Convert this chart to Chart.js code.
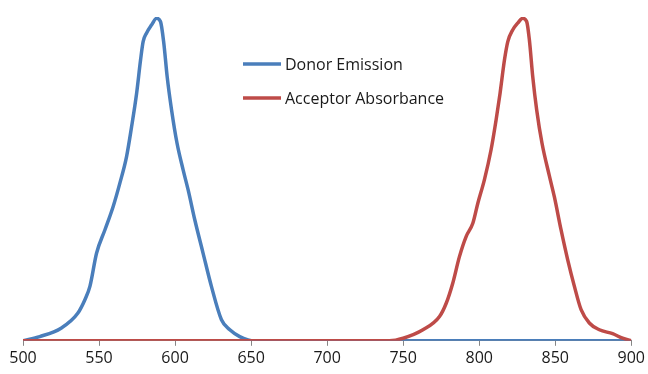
<!DOCTYPE html>
<html>
<head>
<meta charset="utf-8">
<script src="https://cdn.jsdelivr.net/npm/chart.js@4"></script>
<style>
    html, body { margin: 0; padding: 0; background: #fff; }
    #wrap { width: 648px; height: 374px; }
</style>
</head>
<body>
<div id="wrap"><canvas id="c"></canvas></div>
<script>
"use strict"

// wavelength (nm) and normalised intensity
var donorX = [500, 511, 525, 536, 541, 544, 548.4, 553.9, 559.3, 563.7, 568.1, 571.4, 574.7, 577.3, 579, 581.2, 584.5, 587.8, 590.4, 592.6, 594.8, 597.7, 601.3, 605.3, 608.6, 613, 618.4, 623.9, 630.5, 636, 642.5, 648, 652, 700, 800, 900];
var donorY = [0, 0.013, 0.039, 0.085, 0.13, 0.168, 0.271, 0.343, 0.415, 0.487, 0.569, 0.661, 0.764, 0.867, 0.924, 0.95, 0.975, 0.996, 0.986, 0.919, 0.816, 0.713, 0.61, 0.528, 0.466, 0.373, 0.271, 0.168, 0.065, 0.034, 0.013, 0.003, 0, 0, 0, 0];

var acceptorX = [500, 600, 700, 741, 750, 763, 773.9, 778.3, 782.6, 787, 791.4, 795.8, 799.1, 803.4, 807.8, 811.1, 813.7, 816.6, 818.8, 822, 825.3, 828.6, 831.2, 833, 835.2, 837.8, 841.3, 846.1, 849.4, 853.8, 858.2, 862.6, 867, 872.4, 879, 887.7, 894.3, 900];
var acceptorY = [0, 0, 0, 0, 0.008, 0.034, 0.075, 0.116, 0.178, 0.26, 0.322, 0.363, 0.425, 0.497, 0.59, 0.682, 0.764, 0.867, 0.924, 0.96, 0.981, 0.996, 0.986, 0.929, 0.816, 0.713, 0.61, 0.51, 0.445, 0.343, 0.25, 0.168, 0.096, 0.055, 0.034, 0.022, 0.008, 0];

var seriesNames = ["Donor Emission", "Acceptor Absorbance"];
var xMin = 500, xMax = 900, xStep = 50;

var colors = {
    donor: '#4a7ebb',
    acceptor: '#be4b48'
};

var toPoints = function (xs, ys) {
    var arr = [];
    for (var i = 0; i < xs.length; i++) {
        arr.push({ x: xs[i], y: ys[i] });
    }
    return arr;
}

// legend drawn inside the plot, like the original
var boxLegend = {
    id: 'boxLegend',
    afterDraw: function (chart) {
        var ctx = chart.ctx;
        var rows = [64, 98];
        ctx.save();
        ctx.font = "16px 'Open Sans'";
        ctx.textBaseline = 'middle';
        chart.data.datasets.forEach(function (ds, i) {
            ctx.strokeStyle = ds.borderColor;
            ctx.lineWidth = 3.5;
            ctx.beginPath();
            ctx.moveTo(243, rows[i]);
            ctx.lineTo(281, rows[i]);
            ctx.stroke();
            ctx.fillStyle = '#1a1a1a';
            ctx.fillText(ds.label, 285, rows[i] + 1);
        });
        ctx.restore();
    }
};

const config = {
    type: 'line',
    data: {
        datasets: [{
            label: seriesNames[0],
            data: toPoints(donorX, donorY),
            borderColor: colors.donor,
            backgroundColor: colors.donor,
            borderWidth: 3.5,
            pointRadius: 0,
            cubicInterpolationMode: 'monotone',
            order: 1,
        },
        {
            label: seriesNames[1],
            data: toPoints(acceptorX, acceptorY),
            borderColor: colors.acceptor,
            backgroundColor: colors.acceptor,
            borderWidth: 3.5,
            pointRadius: 0,
            cubicInterpolationMode: 'monotone',
            order: 0,
        }]
    },
    options: {
        responsive: true,
        maintainAspectRatio: false,
        animation: false,
        layout: { padding: { left: 23, right: 16, top: 17, bottom: 3 } },
        scales: {
            x: {
                type: 'linear',
                min: xMin,
                max: xMax,
                ticks: {
                    stepSize: xStep,
                    color: '#1a1a1a',
                    padding: 3,
                    font: { size: 16, family: "'Open Sans', sans-serif" }
                },
                grid: { drawOnChartArea: false, drawTicks: true, tickLength: 5, color: '#868686' },
                border: { display: true, color: '#868686', width: 1 }
            },
            y: { display: false, min: 0, max: 1 }
        },
        plugins: {
            legend: { display: false },
            tooltip: { enabled: false }
        }
    },
    plugins: [boxLegend]
};

var myChart = new Chart(document.getElementById('c'), config);
</script>
</body>
</html>
